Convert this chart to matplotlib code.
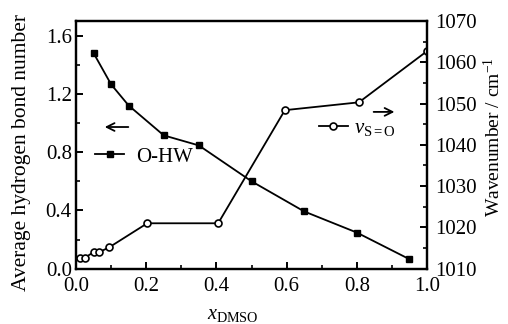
import matplotlib
matplotlib.use("Agg")
import matplotlib.pyplot as plt
from matplotlib.ticker import MultipleLocator

plt.rcParams['font.family'] = ['Liberation Serif', 'DejaVu Serif']
plt.rcParams['mathtext.fontset'] = 'custom'
plt.rcParams['mathtext.rm'] = 'Liberation Serif'
plt.rcParams['mathtext.it'] = 'Liberation Serif:italic'

# O-HW average hydrogen bond number (left axis)
x_ohw = [0.05, 0.10, 0.15, 0.25, 0.35, 0.50, 0.65, 0.80, 0.95]
y_ohw = [1.48, 1.265, 1.12, 0.915, 0.846, 0.60, 0.393, 0.248, 0.065]

# S=O stretching wavenumber (right axis)
x_so = [0.011, 0.026, 0.05, 0.066, 0.095, 0.203, 0.405, 0.595, 0.806, 1.0]
y_so = [1012.7, 1012.7, 1014.0, 1014.0, 1015.2, 1021.0, 1021.0, 1048.4, 1050.3, 1062.7]

xticks = [0.0, 0.2, 0.4, 0.6, 0.8, 1.0]
lticks = [0.0, 0.4, 0.8, 1.2, 1.6]
rticks = [1010, 1020, 1030, 1040, 1050, 1060, 1070]

fig = plt.figure(figsize=(5.08, 3.24), dpi=100)
ax = fig.add_axes([0.1496, 0.1707, 0.6910, 0.7645])
ax2 = ax.twinx()

l1, = ax.plot(x_ohw, y_ohw, '-', color='black', lw=1.3, marker='s', ms=5,
              mfc='black', mec='black', label='O-HW')
l2, = ax2.plot(x_so, y_so, '-', color='black', lw=1.3, marker='o', ms=5,
               mfc='white', mec='black', mew=1.2, label=r'$v_{\mathrm{S{=}O}}$')

ax.set_xlim(0, 1.0)
ax.set_ylim(0, 1.7)
ax2.set_ylim(1010, 1070)
ax.set_xticks(xticks)
ax.set_xticklabels([f'{v:.1f}' for v in xticks])
ax.set_yticks(lticks)
ax.set_yticklabels([f'{v:.1f}' for v in lticks])
ax2.set_yticks(rticks)
ax2.set_yticklabels([str(v) for v in rticks])
ax.xaxis.set_minor_locator(MultipleLocator(0.1))
ax.yaxis.set_minor_locator(MultipleLocator(0.2))
ax2.yaxis.set_minor_locator(MultipleLocator(5))

for a in (ax, ax2):
    for s in a.spines.values():
        s.set_linewidth(1.6)
    a.tick_params(which='major', direction='in', length=5, width=1.4, labelsize=15)
    a.tick_params(which='minor', direction='in', length=3, width=1.2)
ax.tick_params(axis='x', pad=6)
ax.tick_params(axis='y', pad=3)
ax2.tick_params(axis='y', pad=6)

ax.set_ylabel('Average hydrogen bond number', fontsize=15.5)
ax.yaxis.set_label_coords(-0.127, 0.47)
ax2.set_ylabel(r'Wavenumber / cm$^{-1}$', fontsize=14)
ax2.yaxis.set_label_coords(1.160, 0.53)
ax.set_xlabel(r'$x_{\mathrm{DMSO}}$', fontsize=14.5)
ax.xaxis.set_label_coords(0.447, -0.148)

ax.legend(handles=[l1], loc='center left', bbox_to_anchor=(0.054, 0.451),
          frameon=False, fontsize=15, handlelength=1.4, handletextpad=0.6,
          borderaxespad=0, borderpad=0)
ax2.legend(handles=[l2], loc='center left', bbox_to_anchor=(0.692, 0.568),
           frameon=False, fontsize=15, handlelength=1.4, handletextpad=0.3,
           borderaxespad=0, borderpad=0)

ax.annotate('', xy=(0.074, 0.572), xytext=(0.157, 0.572), xycoords='axes fraction',
            arrowprops=dict(arrowstyle='->', lw=1.3, color='black', mutation_scale=14))
ax.annotate('', xy=(0.915, 0.633), xytext=(0.840, 0.633), xycoords='axes fraction',
            arrowprops=dict(arrowstyle='->', lw=1.3, color='black', mutation_scale=14))

fig.savefig('out.png', dpi=100)
